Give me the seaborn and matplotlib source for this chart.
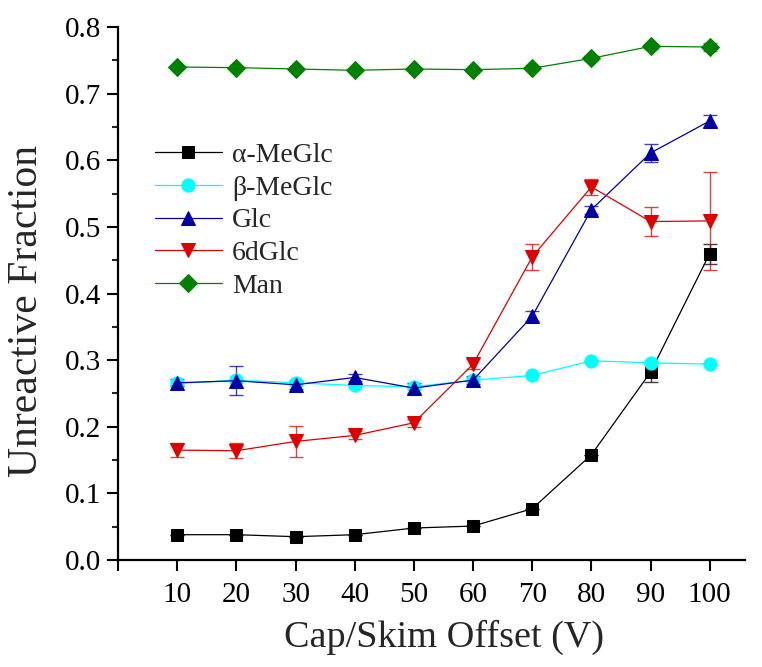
import numpy as np
import pandas as pd
import matplotlib
matplotlib.use("Agg")
import matplotlib.pyplot as plt
import seaborn as sns

voltage = [10, 20, 30, 40, 50, 60, 70, 80, 90, 100]
series_names = ["α-MeGlc", "β-MeGlc", "Glc", "6dGlc", "Man"]

a_meglc = [0.038, 0.038, 0.035, 0.038, 0.048, 0.051, 0.077, 0.158, 0.282, 0.460]
a_meglc_err = [0, 0, 0, 0, 0, 0, 0, 0, 0.015, 0.015]
b_meglc = [0.265, 0.270, 0.266, 0.262, 0.260, 0.270, 0.277, 0.299, 0.296, 0.294]
b_meglc_err = [0.004, 0.004, 0.004, 0.004, 0.004, 0.004, 0, 0, 0.004, 0]
glc = [0.266, 0.269, 0.263, 0.274, 0.258, 0.270, 0.366, 0.526, 0.611, 0.659]
glc_err = [0.005, 0.022, 0.006, 0.005, 0.008, 0.006, 0.008, 0.006, 0.014, 0.009]
d6glc = [0.165, 0.164, 0.178, 0.187, 0.206, 0.294, 0.455, 0.560, 0.508, 0.509]
d6glc_err = [0.011, 0.011, 0.023, 0.006, 0.006, 0.008, 0.020, 0.012, 0.022, 0.074]
man = [0.740, 0.739, 0.737, 0.735, 0.737, 0.736, 0.738, 0.753, 0.771, 0.770]
man_err = [0, 0, 0, 0, 0, 0, 0, 0.004, 0.004, 0.006]

values = [a_meglc, b_meglc, glc, d6glc, man]
errors = [a_meglc_err, b_meglc_err, glc_err, d6glc_err, man_err]
colors = ["#000000", "#00FFFF", "#0000A0", "#DD0000", "#008000"]
markers = ["s", "o", "^", "v", "D"]
msizes = [8.5, 9.5, 9.5, 9.5, 9]

df = pd.DataFrame({
    "V": np.tile(voltage, len(series_names)),
    "frac": np.concatenate(values),
    "series": np.repeat(series_names, len(voltage)),
})

sns.set_theme(style="ticks")
plt.rcParams["font.family"] = ["Liberation Serif", "DejaVu Serif"]
plt.rcParams["mathtext.fontset"] = "stix"

fig = plt.figure(figsize=(7.62, 6.67), dpi=100)
ax = fig.add_axes([0.155, 0.1604, 0.823, 0.7991])

for i, name in enumerate(series_names):
    sub = df[df["series"] == name]
    ax.errorbar(voltage, values[i], yerr=errors[i], fmt="none",
                ecolor=colors[i], elinewidth=1.0, capsize=5, capthick=1.0,
                alpha=0.75, zorder=2)
    sns.lineplot(data=sub, x="V", y="frac", ax=ax, color=colors[i],
                 marker=markers[i], markersize=msizes[i], markeredgecolor=colors[i],
                 linewidth=0.9, label=name, zorder=3)

ax.set_xlim(0, 106)
ax.set_ylim(0, 0.8)
ax.set_xticks(range(0, 101, 10))
ax.set_xticklabels([""] + [str(v) for v in voltage])
ax.set_yticks(np.arange(0, 0.81, 0.1))
ax.set_yticklabels([f"{v:.1f}" for v in np.arange(0, 0.81, 0.1)])
ax.set_yticks(np.arange(0.05, 0.8, 0.1), minor=True)

for s in ["top", "right"]:
    ax.spines[s].set_visible(False)
for s in ["left", "bottom"]:
    ax.spines[s].set_linewidth(1.6)
    ax.spines[s].set_color("black")
ax.spines["left"].set_bounds(0, 0.8)

ax.tick_params(axis="both", which="major", direction="out", length=8, width=1.5,
               labelsize=21, colors="black", pad=4)
ax.tick_params(axis="y", which="minor", direction="out", length=4, width=1.5)
ax.tick_params(axis="x", pad=8)

ax.set_xlabel("Cap/Skim Offset (V)", fontsize=27.5)
ax.set_ylabel("Unreactive Fraction", fontsize=30)
ax.xaxis.set_label_coords(0.52, -0.112)
ax.yaxis.set_label_coords(-0.115, 0.467)

leg = ax.legend(loc="upper left", bbox_to_anchor=(0.059, 0.783), frameon=False,
                fontsize=20, handlelength=2.4, handletextpad=0.36,
                labelspacing=0.26, borderaxespad=0, borderpad=0)

fig.savefig("out.png", dpi=100)
